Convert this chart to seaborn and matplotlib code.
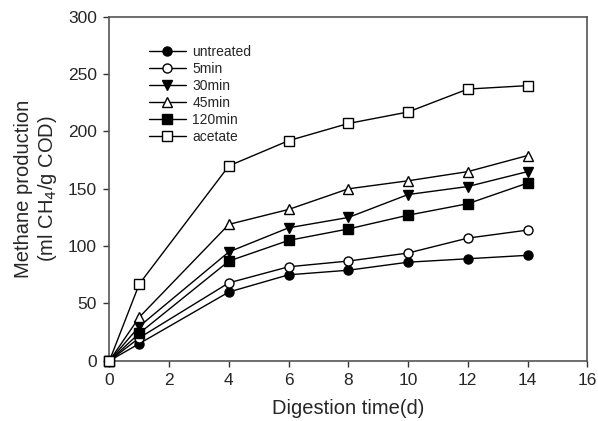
import numpy as np
import pandas as pd
import matplotlib
matplotlib.use("Agg")
import matplotlib.pyplot as plt
import seaborn as sns

# ------------------------
# data
# ------------------------
days = [0, 1, 4, 6, 8, 10, 12, 14]
untreated = [0, 15, 60, 75, 79, 86, 89, 92]
min5 = [0, 20, 68, 82, 87, 94, 107, 114]
min30 = [0, 30, 95, 116, 125, 145, 152, 165]
min45 = [0, 38, 119, 132, 150, 157, 165, 179]
min120 = [0, 24, 87, 105, 115, 127, 137, 155]
acetate = [0, 67, 170, 192, 207, 217, 237, 240]

labels = ["untreated", "5min", "30min", "45min", "120min", "acetate"]
series = [untreated, min5, min30, min45, min120, acetate]

dta = pd.DataFrame({
    "day": days * len(labels),
    "methane": sum(series, []),
    "group": sum([[l] * len(days) for l in labels], []),
})

# ------------------------
# plot
# ------------------------
sns.set_style("ticks")
plt.rcParams["font.family"] = ["Liberation Sans", "DejaVu Sans"]

markers = {"untreated": "o", "5min": "o", "30min": "v",
           "45min": "^", "120min": "s", "acetate": "s"}
faces = {"untreated": "black", "5min": "white", "30min": "black",
         "45min": "white", "120min": "black", "acetate": "white"}

fig = plt.figure(figsize=(5.98, 4.21), dpi=100)
ax = fig.add_axes([0.183, 0.143, 0.799, 0.817])

for lab in labels:
    sub = dta[dta["group"] == lab]
    sns.lineplot(data=sub, x="day", y="methane", ax=ax, color="black",
                 lw=1.0, marker=markers[lab], markersize=6.5,
                 markerfacecolor=faces[lab], markeredgecolor="black",
                 markeredgewidth=1.0, label=lab, clip_on=False, zorder=3)

ax.set_xlim(0, 16)
ax.set_ylim(0, 300)
ax.set_xticks(range(0, 17, 2))
ax.set_yticks(range(0, 301, 50))
ax.tick_params(axis="both", labelsize=12.5, direction="out", length=4,
               width=1, color="#333333", pad=5)
for s in ax.spines.values():
    s.set_color("#555555")
    s.set_linewidth(1.2)

ax.set_xlabel("Digestion time(d)", fontsize=14.5, labelpad=8)
ax.set_ylabel("Methane production\n(ml CH$_4$/g COD)", fontsize=14.5,
              labelpad=6)

leg = ax.legend(loc="upper left", bbox_to_anchor=(0.072, 0.935), frameon=False,
                fontsize=10, handlelength=2.6, labelspacing=0.22,
                handletextpad=0.5, borderaxespad=0)

fig.savefig("out.png", dpi=100)
